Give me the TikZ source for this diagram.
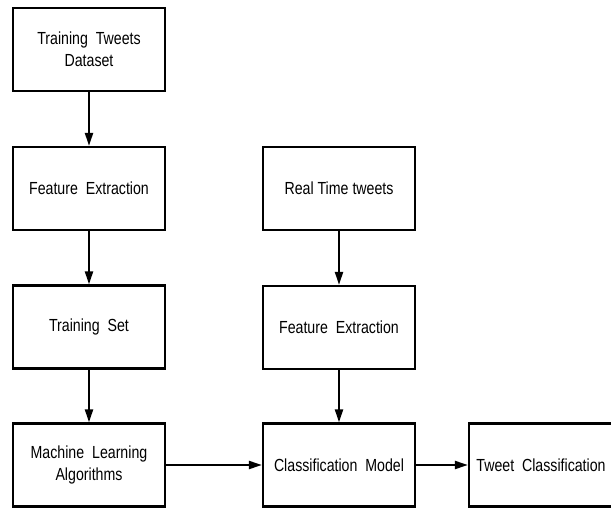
\documentclass[tikz,border=0pt]{standalone}
\usepackage{fontspec}
\setmainfont{Liberation Sans}[FakeStretch=0.81]
\usetikzlibrary{arrows.meta}
\begin{document}
\begin{tikzpicture}[x=1pt,y=-1pt,
  box/.style={draw=black, line width=2.2pt, rectangle, minimum width=152pt, minimum height=83pt,
    inner sep=0pt, align=center, font=\fontsize{17.5pt}{22pt}\selectfont},
  conn/.style={line width=2pt, -{Triangle[length=13pt,width=8pt]}}]
\useasboundingbox[fill=white] (0,0) rectangle (611,508);
\node[box] (ttd) at (89,49.5) {Training\ \ Tweets\\Dataset};
\node[box] (fe1) at (89,188.5) {Feature\ \ Extraction};
\node[box] (ts) at (89,327) {Training\ \ Set};
\node[box] (mla) at (89,465) {Machine\ \ Learning\\Algorithms};
\node[box] (rtt) at (339,188.5) {Real Time tweets};
\node[box] (fe2) at (339,327.5) {Feature\ \ Extraction};
\node[box] (cm) at (339,465) {Classification\ \ Model};
\node[box] (tc) at (545,465) {\hspace*{-8pt}Tweet\ \ Classification};
\draw[conn] (ttd) -- (fe1);
\draw[conn] (fe1) -- (ts);
\draw[conn] (ts) -- (mla);
\draw[conn] (rtt) -- (fe2);
\draw[conn] (fe2) -- (cm);
\draw[conn] (mla) -- (cm);
\draw[conn] (cm) -- (tc);
\end{tikzpicture}
\end{document}
